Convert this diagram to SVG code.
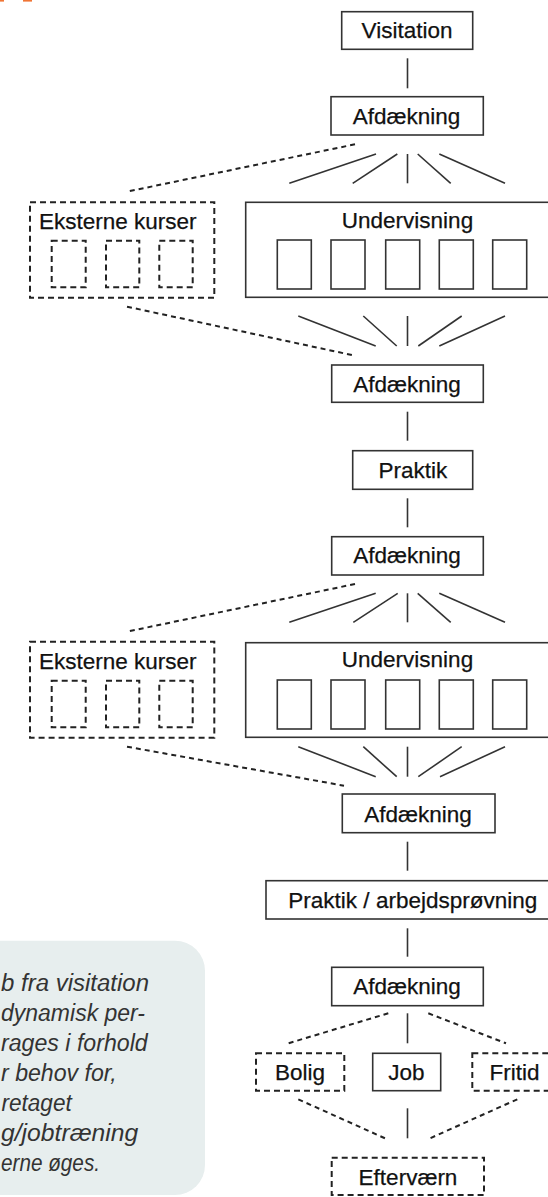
<svg xmlns="http://www.w3.org/2000/svg" width="548" height="1197" viewBox="0 0 548 1197">
<style>
.box{fill:#fff;stroke:#333;stroke-width:1.6}
.dbox{fill:#fff;stroke:#222;stroke-width:2;stroke-dasharray:6 4}
.ibox{fill:none;stroke:#333;stroke-width:1.6}
.idbox{fill:none;stroke:#222;stroke-width:2;stroke-dasharray:6 4}
.t{font-family:"Liberation Sans",Arial,sans-serif;font-size:22.5px;fill:#111;stroke:#111;stroke-width:0.25;text-anchor:middle}
.s{stroke:#333;stroke-width:1.6;fill:none}
.d{stroke:#222;stroke-width:2;stroke-dasharray:5 4;fill:none}
.note{font-family:"Liberation Sans",Arial,sans-serif;font-style:italic;font-size:23.5px;fill:#333}
</style>
<rect x="0" y="0" width="4" height="1.6" fill="#f07535"/>
<rect x="23" y="0" width="9" height="1.6" fill="#f07535"/>
<g id="note">
<rect x="-40" y="940.7" width="245" height="254.3" rx="30" fill="#e7eeee"/>
<text class="note" x="1" y="991" textLength="148" lengthAdjust="spacingAndGlyphs">b fra visitation</text>
<text class="note" x="1" y="1021" textLength="144" lengthAdjust="spacingAndGlyphs">dynamisk per-</text>
<text class="note" x="1" y="1051" textLength="146.7" lengthAdjust="spacingAndGlyphs">rages i forhold</text>
<text class="note" x="1" y="1081" textLength="115.7" lengthAdjust="spacingAndGlyphs">r behov for,</text>
<text class="note" x="1.5" y="1111" textLength="70.2" lengthAdjust="spacingAndGlyphs">retaget</text>
<text class="note" x="1" y="1141" textLength="137.3" lengthAdjust="spacingAndGlyphs">g/jobtræning</text>
<text class="note" x="1" y="1171" textLength="99" lengthAdjust="spacingAndGlyphs">erne øges.</text>
</g>
<g id="connectors">
<line class="s" x1="407.5" y1="58.3" x2="407.5" y2="88.3"/>
<line class="d" x1="355" y1="144.3" x2="126.7" y2="191.7"/>
<line class="s" x1="376" y1="154" x2="289.3" y2="183.3"/>
<line class="s" x1="397.3" y1="154" x2="352.7" y2="183.3"/>
<line class="s" x1="407.5" y1="154" x2="407.5" y2="183.3"/>
<line class="s" x1="417.7" y1="154" x2="450.7" y2="183.3"/>
<line class="s" x1="439.3" y1="154" x2="505" y2="183.3"/>
<line class="d" x1="127" y1="306.7" x2="355" y2="355.7"/>
<line class="s" x1="298.3" y1="316" x2="375.7" y2="346"/>
<line class="s" x1="363.3" y1="316" x2="396.7" y2="346"/>
<line class="s" x1="407.5" y1="316" x2="407.5" y2="346"/>
<line class="s" x1="461.7" y1="316" x2="418.3" y2="346"/>
<line class="s" x1="505" y1="316" x2="439.3" y2="346"/>
<line class="s" x1="407.5" y1="411.7" x2="407.5" y2="440.7"/>
<line class="s" x1="407.5" y1="498.3" x2="407.5" y2="527.3"/>
<line class="d" x1="355" y1="584" x2="126.7" y2="631.7"/>
<line class="s" x1="375.7" y1="593.3" x2="289.3" y2="622.3"/>
<line class="s" x1="397.7" y1="593.3" x2="353.3" y2="622.3"/>
<line class="s" x1="407.5" y1="593.3" x2="407.5" y2="622.3"/>
<line class="s" x1="417.7" y1="593.3" x2="450.7" y2="622.3"/>
<line class="s" x1="439.3" y1="593.3" x2="505" y2="622.3"/>
<line class="d" x1="127" y1="746.7" x2="344" y2="785.7"/>
<line class="s" x1="298.3" y1="746.7" x2="375.7" y2="776.7"/>
<line class="s" x1="363.3" y1="746.7" x2="396.7" y2="776.7"/>
<line class="s" x1="407.5" y1="746.7" x2="407.5" y2="776.7"/>
<line class="s" x1="461.7" y1="746.7" x2="418.3" y2="776.7"/>
<line class="s" x1="505" y1="746.7" x2="440" y2="776.7"/>
<line class="s" x1="407.5" y1="841.7" x2="407.5" y2="870.7"/>
<line class="s" x1="407.5" y1="928.3" x2="407.5" y2="956.7"/>
<line class="d" x1="388.3" y1="1013.3" x2="288.3" y2="1043.3"/>
<line class="s" x1="407.5" y1="1013.3" x2="407.5" y2="1043.3"/>
<line class="d" x1="428.3" y1="1013.3" x2="506" y2="1043.3"/>
<line class="d" x1="298.3" y1="1099.3" x2="385" y2="1138.3"/>
<line class="s" x1="407.5" y1="1108.3" x2="407.5" y2="1138.3"/>
<line class="d" x1="517.3" y1="1099.3" x2="430" y2="1138.3"/>
</g>
<g id="visitation"><rect class="box" x="341.7" y="11.7" width="131" height="37.6"/><text class="t" x="407" y="37.7">Visitation</text></g>
<g id="afd1"><rect class="box" x="331" y="96.7" width="152.3" height="38.3"/><text class="t" x="406.5" y="124">Afdækning</text></g>
<g id="eksterne1"><rect class="dbox" x="30" y="202.3" width="184.3" height="95.4"/><text class="t" x="39" y="229.3" style="text-anchor:start">Eksterne kurser</text>
<rect class="idbox" x="51.7" y="240.7" width="34" height="46.6"/><rect class="idbox" x="106" y="240.7" width="33.3" height="46.6"/><rect class="idbox" x="159.3" y="240.7" width="33.4" height="46.6"/></g>
<g id="undervisning1"><rect class="box" x="245.7" y="202.3" width="324" height="95"/><text class="t" x="407.5" y="227.7">Undervisning</text>
<rect class="ibox" x="277.3" y="240" width="34" height="49"/><rect class="ibox" x="331" y="240" width="34" height="49"/><rect class="ibox" x="385.7" y="240" width="34" height="49"/><rect class="ibox" x="439.3" y="240" width="34" height="49"/><rect class="ibox" x="492.7" y="240" width="34" height="49"/></g>
<g id="afd2"><rect class="box" x="331.7" y="365" width="151.6" height="37.3"/><text class="t" x="407" y="391.7">Afdækning</text></g>
<g id="praktik"><rect class="box" x="352.7" y="450.7" width="120" height="38.6"/><text class="t" x="412.8" y="478.3">Praktik</text></g>
<g id="afd3"><rect class="box" x="331.7" y="536.7" width="151.6" height="38.3"/><text class="t" x="407" y="563.3">Afdækning</text></g>
<g id="eksterne2"><rect class="dbox" x="30" y="641.7" width="184.3" height="96"/><text class="t" x="39" y="669.3" style="text-anchor:start">Eksterne kurser</text>
<rect class="idbox" x="51.7" y="680.7" width="34" height="46.6"/><rect class="idbox" x="106" y="680.7" width="33.3" height="46.6"/><rect class="idbox" x="159.3" y="680.7" width="33.4" height="46.6"/></g>
<g id="undervisning2"><rect class="box" x="245.7" y="642.7" width="324" height="94.6"/><text class="t" x="407.5" y="667.3">Undervisning</text>
<rect class="ibox" x="277.3" y="680" width="34" height="49"/><rect class="ibox" x="331" y="680" width="34" height="49"/><rect class="ibox" x="385.7" y="680" width="34" height="49"/><rect class="ibox" x="439.3" y="680" width="34" height="49"/><rect class="ibox" x="492.7" y="680" width="34" height="49"/></g>
<g id="afd4"><rect class="box" x="342.3" y="794" width="152.7" height="38.7"/><text class="t" x="418" y="821.7">Afdækning</text></g>
<g id="praktik2"><rect class="box" x="266" y="880.7" width="293" height="38.3"/><text class="t" x="412.8" y="907.7">Praktik / arbejdsprøvning</text></g>
<g id="afd5"><rect class="box" x="331.7" y="967.3" width="151.6" height="38.4"/><text class="t" x="407" y="994">Afdækning</text></g>
<g id="bolig"><rect class="dbox" x="256" y="1053.3" width="88.3" height="37.4"/><text class="t" x="300" y="1080">Bolig</text></g>
<g id="job"><rect class="box" x="372.7" y="1053.3" width="68" height="37.4"/><text class="t" x="406.5" y="1080">Job</text></g>
<g id="fritid"><rect class="dbox" x="472.3" y="1053.3" width="85" height="37.4"/><text class="t" x="514.5" y="1080">Fritid</text></g>
<g id="eftervaern"><rect class="dbox" x="331.7" y="1157.7" width="152.3" height="37.3"/><text class="t" x="408" y="1185">Efterværn</text></g>
</svg>
